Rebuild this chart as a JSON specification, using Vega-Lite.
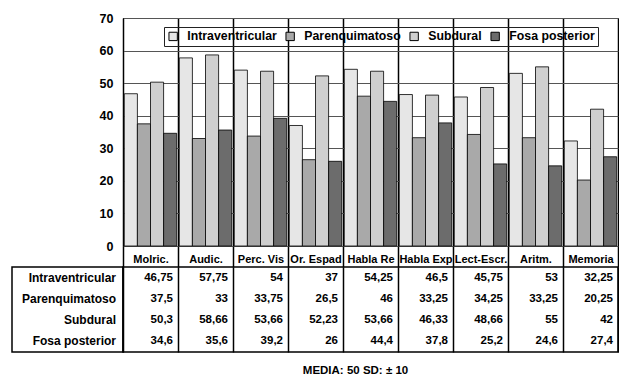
{
  "$schema": "https://vega.github.io/schema/vega-lite/v6.json",
  "padding": {"left": 11, "top": 11, "right": 0, "bottom": 0},
  "background": "white",
  "config": {
    "font": "Liberation Sans",
    "locale": {"number": {"decimal": ",", "thousands": ".", "grouping": [3], "currency": ["", " €"]}},
    "view": {"stroke": null}
  },
  "datasets": {
    "d": [
      {"category": "Molric.", "series": "Intraventricular", "value": 46.75},
      {"category": "Molric.", "series": "Parenquimatoso", "value": 37.5},
      {"category": "Molric.", "series": "Subdural", "value": 50.3},
      {"category": "Molric.", "series": "Fosa posterior", "value": 34.6},
      {"category": "Audic.", "series": "Intraventricular", "value": 57.75},
      {"category": "Audic.", "series": "Parenquimatoso", "value": 33},
      {"category": "Audic.", "series": "Subdural", "value": 58.66},
      {"category": "Audic.", "series": "Fosa posterior", "value": 35.6},
      {"category": "Perc. Vis", "series": "Intraventricular", "value": 54},
      {"category": "Perc. Vis", "series": "Parenquimatoso", "value": 33.75},
      {"category": "Perc. Vis", "series": "Subdural", "value": 53.66},
      {"category": "Perc. Vis", "series": "Fosa posterior", "value": 39.2},
      {"category": "Or. Espad", "series": "Intraventricular", "value": 37},
      {"category": "Or. Espad", "series": "Parenquimatoso", "value": 26.5},
      {"category": "Or. Espad", "series": "Subdural", "value": 52.23},
      {"category": "Or. Espad", "series": "Fosa posterior", "value": 26},
      {"category": "Habla Re", "series": "Intraventricular", "value": 54.25},
      {"category": "Habla Re", "series": "Parenquimatoso", "value": 46},
      {"category": "Habla Re", "series": "Subdural", "value": 53.66},
      {"category": "Habla Re", "series": "Fosa posterior", "value": 44.4},
      {"category": "Habla Exp", "series": "Intraventricular", "value": 46.5},
      {"category": "Habla Exp", "series": "Parenquimatoso", "value": 33.25},
      {"category": "Habla Exp", "series": "Subdural", "value": 46.33},
      {"category": "Habla Exp", "series": "Fosa posterior", "value": 37.8},
      {"category": "Lect-Escr.", "series": "Intraventricular", "value": 45.75},
      {"category": "Lect-Escr.", "series": "Parenquimatoso", "value": 34.25},
      {"category": "Lect-Escr.", "series": "Subdural", "value": 48.66},
      {"category": "Lect-Escr.", "series": "Fosa posterior", "value": 25.2},
      {"category": "Aritm.", "series": "Intraventricular", "value": 53},
      {"category": "Aritm.", "series": "Parenquimatoso", "value": 33.25},
      {"category": "Aritm.", "series": "Subdural", "value": 55},
      {"category": "Aritm.", "series": "Fosa posterior", "value": 24.6},
      {"category": "Memoria", "series": "Intraventricular", "value": 32.25},
      {"category": "Memoria", "series": "Parenquimatoso", "value": 20.25},
      {"category": "Memoria", "series": "Subdural", "value": 42},
      {"category": "Memoria", "series": "Fosa posterior", "value": 27.4}
    ]
  },
  "columns": 2,
  "bounds": "flush",
  "spacing": {"row": 21, "column": 0},
  "concat": [
    {
      "width": 111,
      "height": 228,
      "data": {"values": []},
      "mark": "text",
      "encoding": {}
    },
    {
      "width": 495,
      "height": 228,
      "data": {"name": "d"},
      "view": {"stroke": "#444", "strokeWidth": 1},
      "mark": {"type": "bar", "stroke": "black", "strokeWidth": 0.8},
      "encoding": {
        "x": {
          "field": "category", "type": "nominal", "sort": null,
          "scale": {"type": "band", "paddingInner": 0, "paddingOuter": 0},
          "axis": {
            "title": null, "tickBand": "extent", "labelAngle": 0,
            "labelAlign": "center", "labelFontWeight": "bold", "labelFontSize": 11,
            "labelColor": "black", "labelPadding": -14, "labelOverlap": false, "labelLimit": 0,
            "domain": false, "ticks": true, "tickSize": 21, "tickColor": "black", "tickWidth": 1.5,
            "grid": true, "gridColor": "black", "gridWidth": 1.5, "gridOpacity": 1
          }
        },
        "xOffset": {"field": "series", "sort": null, "scale": {"paddingOuter": 0.1, "paddingInner": 0}},
        "y": {
          "field": "value", "type": "quantitative",
          "scale": {"domain": [0, 70], "nice": false},
          "axis": {
            "values": [0, 10, 20, 30, 40, 50, 60, 70], "title": null,
            "labelFontSize": 12.5, "labelFontWeight": "bold", "labelColor": "black",
            "labelPadding": 10, "ticks": false, "domain": true, "domainColor": "black",
            "grid": true, "gridColor": "#555", "gridOpacity": 1
          }
        },
        "fill": {
          "field": "series", "type": "nominal", "sort": null,
          "scale": {
            "domain": ["Intraventricular", "Parenquimatoso", "Subdural", "Fosa posterior"],
            "range": ["#e6e6e6", "#a9a9a9", "#cfcfcf", "#6c6c6c"]
          },
          "legend": {
            "title": null, "orient": "none", "legendX": 152, "legendY": 9,
            "direction": "horizontal", "strokeColor": "#222", "padding": 3,
            "symbolType": "square", "symbolSize": 70, "symbolStrokeColor": "black",
            "symbolStrokeWidth": 1, "labelFontSize": 12.3, "labelFontWeight": "bold",
            "labelColor": "black", "labelOffset": 8, "columnPadding": 6, "labelLimit": 0
          }
        }
      }
    },
    {
      "width": 111,
      "height": 85,
      "data": {"name": "d"},
      "transform": [{"aggregate": [], "groupby": ["series"]}],
      "view": {"stroke": "black", "strokeWidth": 1.5},
      "mark": {"type": "text", "align": "right", "x": "width", "dx": -7, "fontSize": 12, "fontWeight": "bold", "color": "black"},
      "encoding": {
        "y": {
          "field": "series", "type": "nominal",
          "sort": ["Intraventricular", "Parenquimatoso", "Subdural", "Fosa posterior"],
          "scale": {"type": "band", "paddingInner": 0, "paddingOuter": 0}, "axis": null
        },
        "text": {"field": "series", "type": "nominal"}
      }
    },
    {
      "width": 495,
      "height": 85,
      "data": {"name": "d"},
      "view": {"stroke": "black", "strokeWidth": 1.5},
      "mark": {"type": "text", "align": "right", "dx": -5, "fontSize": 11.5, "fontWeight": "bold", "color": "black"},
      "encoding": {
        "x": {
          "field": "category", "type": "nominal", "sort": null, "bandPosition": 1,
          "scale": {"type": "band", "paddingInner": 0, "paddingOuter": 0},
          "axis": {
            "tickBand": "extent", "labels": false, "ticks": false, "domain": false,
            "grid": true, "gridColor": "black", "gridWidth": 1.5, "gridOpacity": 1,
            "title": "MEDIA: 50 SD: ± 10", "titleFontSize": 11.5, "titleFontWeight": "bold",
            "titleColor": "black", "titlePadding": 12, "titleX": 232, "titleAlign": "center"
          }
        },
        "y": {
          "field": "series", "type": "nominal",
          "sort": ["Intraventricular", "Parenquimatoso", "Subdural", "Fosa posterior"],
          "scale": {"type": "band", "paddingInner": 0, "paddingOuter": 0}, "axis": null
        },
        "text": {"field": "value", "type": "quantitative", "format": "~f"}
      }
    }
  ]
}
